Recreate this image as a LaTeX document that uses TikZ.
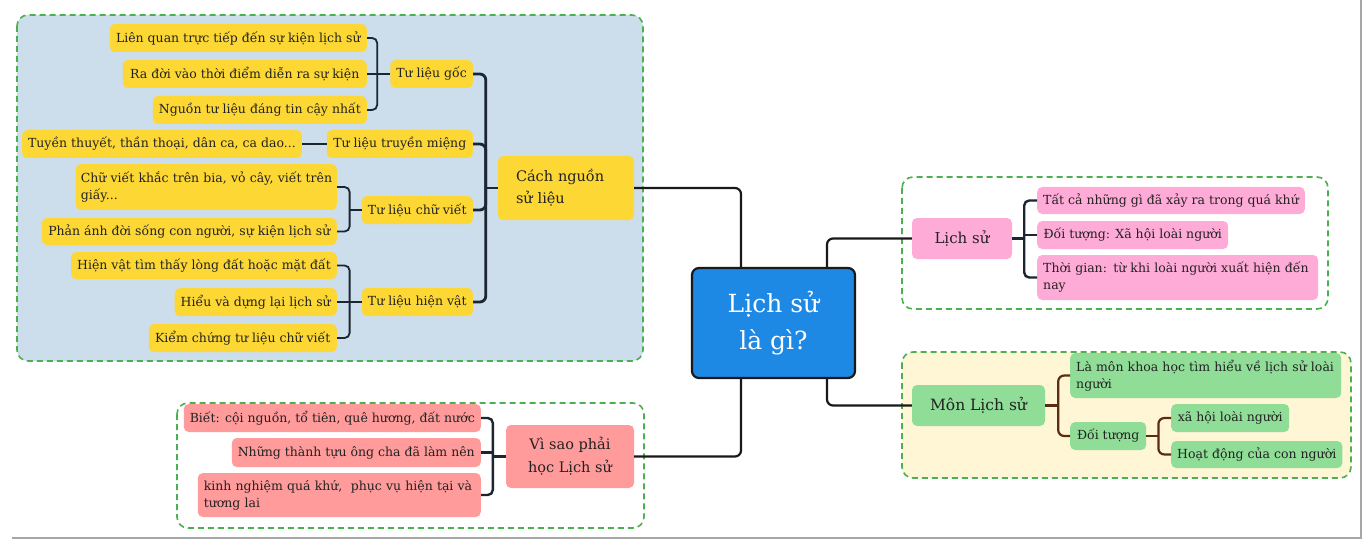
\documentclass[tikz,border=0pt]{standalone}
\usepackage{fontspec}
\setmainfont{DejaVu Serif}
\definecolor{yel}{HTML}{FDD835}
\definecolor{pblue}{HTML}{CCDDEB}
\definecolor{cblue}{HTML}{1E88E5}
\definecolor{salmon}{HTML}{FF9B9B}
\definecolor{pinkc}{HTML}{FFABD8}
\definecolor{greenc}{HTML}{8FDD97}
\definecolor{cream}{HTML}{FFF6D5}
\definecolor{dgreen}{HTML}{4CAF50}
\definecolor{navy}{HTML}{1B2631}
\definecolor{brownc}{HTML}{5A2D12}
\definecolor{txt}{HTML}{222222}
\begin{document}
\begin{tikzpicture}[x=1pt,y=-1pt,
  box/.style={rounded corners=5pt, inner sep=0pt, inner xsep=6pt, font=\fontsize{12.5}{17}\selectfont, text=txt, minimum height=28pt},
  yb/.style={box, fill=yel},
  sb/.style={box, fill=salmon},
  pb/.style={box, fill=pinkc},
  gb/.style={box, fill=greenc},
  two/.style={align=left, text width=#1},
  br/.style={draw=navy, line width=1.8pt, rounded corners=5pt},
  mainbr/.style={draw=navy, line width=2.8pt, rounded corners=6pt},
  conn/.style={draw=black!90, line width=2.2pt, rounded corners=6pt},
  bbr/.style={draw=brownc, line width=2.2pt, rounded corners=6pt},
  panel/.style={draw=dgreen, dash pattern=on 6pt off 4pt, line width=1.6pt, rounded corners=11pt}
]
\useasboundingbox (0,0) rectangle (1370,548);
\fill[white] (0,0) rectangle (1370,548);
\draw[gray!70, line width=2.5pt] (1361,0) -- (1361,538) -- (12,538);

% panels
\draw[panel, fill=pblue] (17,15) rectangle (643,361);
\draw[panel, fill=white] (177,403) rectangle (644,528);
\draw[panel, fill=white] (902,177) rectangle (1328,309);
\draw[panel, fill=cream] (902,352) rectangle (1351,478);

% left group
\node[yb, anchor=east, minimum width=257pt] (a1) at (367,38) {Liên quan trực tiếp đến sự kiện lịch sử};
\node[yb, anchor=east, minimum width=244pt] (a2) at (367,74) {Ra đời vào thời điểm diễn ra sự kiện};
\node[yb, anchor=east, minimum width=213pt] (a3) at (367,110) {Nguồn tư liệu đáng tin cậy nhất};
\node[yb, anchor=east, minimum width=81pt] (A) at (473,74) {Tư liệu gốc};
\node[yb, anchor=east, minimum width=276pt] (b1) at (302,144) {Tuyền thuyết, thần thoại, dân ca, ca dao...};
\node[yb, anchor=east, minimum width=146pt] (B) at (473,144) {Tư liệu truyền miệng};
\node[yb, anchor=east, inner xsep=5pt, two=251pt, minimum height=46pt] (c1) at (337,187) {\mbox{Chữ viết khắc trên bia, vỏ cây, viết trên}\\giấy...};
\node[yb, anchor=east, minimum width=295pt, minimum height=27pt] (c2) at (337,231.5) {Phản ánh đời sống con người, sự kiện lịch sử};
\node[yb, anchor=east, minimum width=111pt] (C) at (473,210) {Tư liệu chữ viết};
\node[yb, anchor=east, minimum width=264pt, minimum height=27pt] (d1) at (337,265.5) {Hiện vật tìm thấy lòng đất hoặc mặt đất};
\node[yb, anchor=east, minimum width=160pt] (d2) at (337,302) {Hiểu và dựng lại lịch sử};
\node[yb, anchor=east, minimum width=188pt] (d3) at (337,338) {Kiểm chứng tư liệu chữ viết};
\node[yb, anchor=east, minimum width=111pt] (D) at (473,302) {Tư liệu hiện vật};
\node[yb, inner xsep=18pt, two=100pt, minimum height=64pt, font=\fontsize{14.5}{22}\selectfont] (K) at (566,188) {Cách nguồn\\sử liệu};

\draw[br] (a1.east) -| ([xshift=-13pt]A.west) |- (a3.east);
\draw[br] (a2.east) -- (A.west);
\draw[br] (b1.east) -- (B.west);
\draw[br] (c1.east) -| ([xshift=-12pt]C.west) |- (c2.east);
\draw[br] ([xshift=-12pt]C.west) -- (C.west);
\draw[br] (d1.east) -| ([xshift=-12pt]D.west) |- (d3.east);
\draw[br] (d2.east) -- (D.west);
\draw[mainbr] (A.east) -| ([xshift=-12pt]K.west) |- (D.east);
\draw[mainbr] (B.east) -| ([xshift=-12pt]K.west);
\draw[mainbr] (C.east) -| ([xshift=-12pt]K.west);
\draw[mainbr] ([xshift=-12pt]K.west) -- (K.west);

% center
\node[rounded corners=7pt, fill=cblue, draw=black!90, line width=2.2pt, minimum width=163pt, minimum height=110pt, text=white, align=center, font=\fontsize{25}{37}\selectfont] (M) at (773.5,323) {Lịch sử\\là gì?};

% bottom-left group
\node[sb, inner xsep=0pt, minimum width=128pt, minimum height=63pt, align=center, font=\fontsize{14.5}{23}\selectfont] (V) at (570,456.5) {Vì sao phải\\học Lịch sử};
\node[sb, anchor=east, minimum width=294pt] (v1) at (481,418) {Biết: cội nguồn, tổ tiên, quê hương, đất nước};
\node[sb, anchor=east, minimum width=249pt, minimum height=29pt] (v2) at (481,452.5) {Những thành tựu ông cha đã làm nên};
\node[sb, anchor=east, two=271pt, minimum height=44pt] (v3) at (481,495) {\mbox{kinh nghiệm quá khứ, \ phục vụ hiện tại và}\\tương lai};
\draw[br, line width=2.4pt] (v1.east) -| ([xshift=-13pt]V.west) |- (v3.east);
\draw[br, line width=2.4pt] (v2.east) -- ++(12,0);
\draw[br, line width=2.4pt] ([xshift=-13pt]V.west) -- (V.west);

% right-top group
\node[pb, inner xsep=0pt, minimum width=100pt, minimum height=41pt, font=\fontsize{15}{18}\selectfont] (L) at (962,238.5) {Lịch sử};
\node[pb, anchor=west, minimum width=265pt, minimum height=27pt] (l1) at (1037,200.5) {Tất cả những gì đã xảy ra trong quá khứ};
\node[pb, anchor=west, minimum width=191pt] (l2) at (1037,235) {Đối tượng: Xã hội loài người};
\node[pb, anchor=west, two=269pt, minimum height=45pt] (l3) at (1037,277.5) {\mbox{Thời gian: từ khi loài người xuất hiện đến}\\nay};
\draw[br, line width=2.4pt] (l1.west) -| ([xshift=12pt]L.east) |- (l3.west);
\draw[br, line width=2.4pt] (L.east) -- ([xshift=12pt]L.east);
\draw[br, line width=2.4pt] (l2.west) -- ++(-13,0);

% right-bottom group
\node[gb, inner xsep=0pt, minimum width=133pt, minimum height=41pt, font=\fontsize{15.5}{18}\selectfont] (ML) at (978.5,405.5) {Môn Lịch sử};
\node[gb, anchor=west, two=259pt, minimum height=45pt] (ml1) at (1070,375.5) {\mbox{Là môn khoa học tìm hiểu về lịch sử loài}\\người};
\node[gb, anchor=west, minimum width=76pt] (ml2) at (1070,436) {Đối tượng};
\node[gb, anchor=west, minimum width=118pt] (ml3) at (1171,418) {xã hội loài người};
\node[gb, anchor=west, minimum width=170pt, minimum height=27pt] (ml4) at (1171,454.5) {Hoạt động của con người};
\draw[bbr] (ml1.west) -| ([xshift=13pt]ML.east) |- (ml2.west);
\draw[bbr] (ML.east) -- ([xshift=13pt]ML.east);
\draw[bbr] (ml3.west) -| ([xshift=12pt]ml2.east) |- (ml4.west);
\draw[bbr] (ml2.east) -- ([xshift=12pt]ml2.east);

% center connectors
\draw[conn] (K.east) -| ([xshift=-32.5pt]M.north);
\draw[conn] ([xshift=-32.5pt]M.south) |- (V.east);
\draw[conn] ([xshift=53.5pt]M.north) |- (L.west);
\draw[conn] ([xshift=53.5pt]M.south) |- (ML.west);
\end{tikzpicture}
\end{document}
